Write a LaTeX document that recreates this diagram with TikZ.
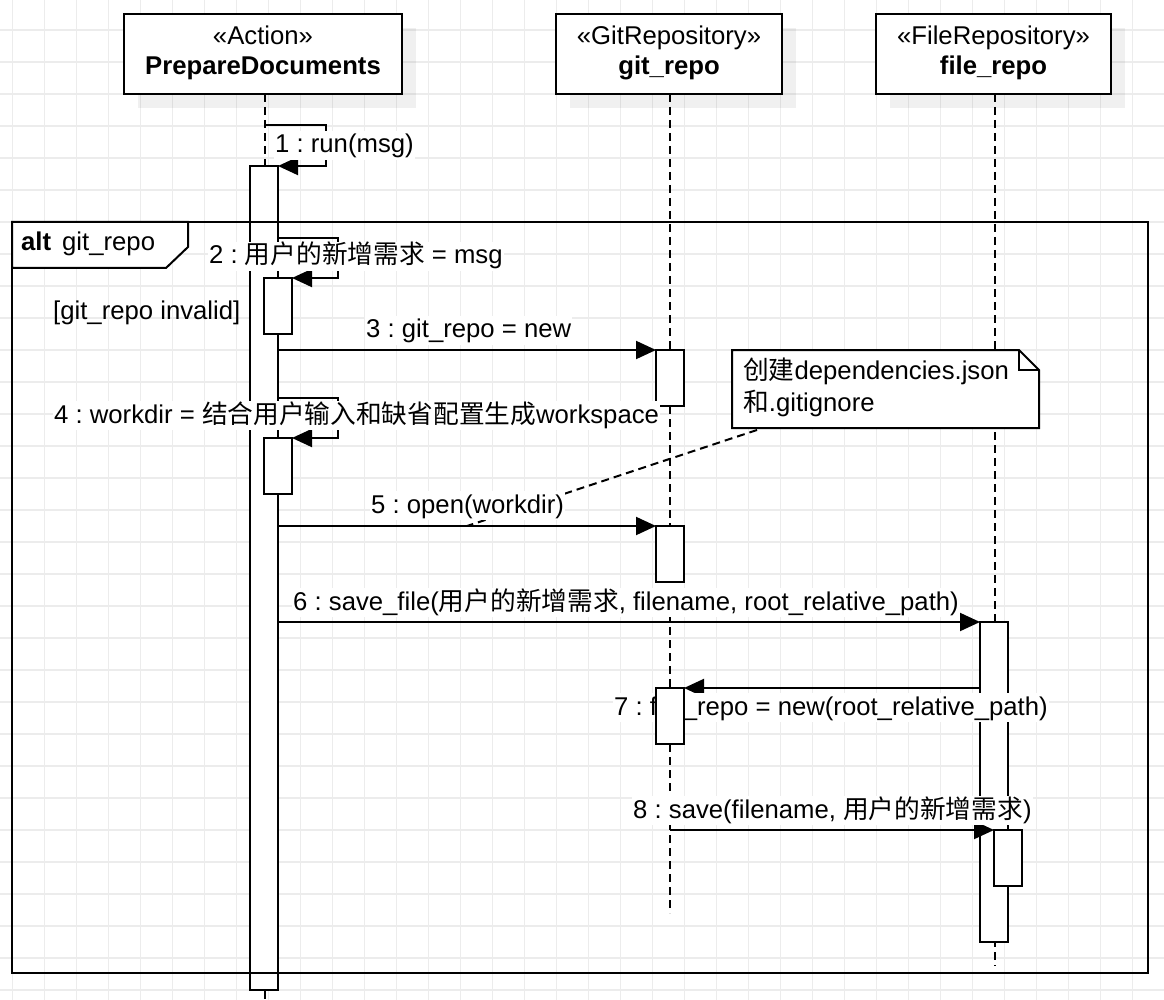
\documentclass[tikz,border=0pt]{standalone}
\usepackage{fontspec}
\setmainfont{Liberation Sans}
\newfontfamily\cjkf{Noto Sans CJK SC}
\newcommand\zh[1]{{\cjkf #1}}
\frenchspacing
\usetikzlibrary{arrows.meta,calc}
\tikzset{
  gridline/.style={line width=1.3pt, color={rgb,255:red,236;green,236;blue,236}},
  headbox/.style={draw, fill=white, line width=2pt, minimum height=80pt, inner sep=0pt, outer sep=0pt, anchor=north west, align=center},
  shadowfill/.style={fill=black, opacity=0.06},
  lifeline/.style={line width=2pt, dash pattern=on 8pt off 5pt},
  actbox/.style={draw, fill=white, line width=2pt, minimum width=28pt, inner sep=0pt, outer sep=0pt, anchor=north west},
  msg/.style={line width=2pt, -{Triangle[length=20pt,width=18pt]}},
  lbl/.style={fill=white, inner xsep=1pt, inner ysep=0pt, text height=22pt, text depth=7pt, anchor=base west},
  plain/.style={inner sep=0pt, anchor=base west},
  notelink/.style={line width=2pt, dash pattern=on 8pt off 5pt},
}
\begin{document}
\begin{tikzpicture}[x=1pt,y=-1pt,font=\fontsize{25.7pt}{30pt}\selectfont\frenchspacing]
\fill[white] (0,0) rectangle (1164,1000);
\useasboundingbox (0,0) rectangle (1164,1000);
% grid
\foreach \i in {0,...,36} \draw[gridline] ({12.5+32*\i},0) -- ++(0,1000);
\foreach \j in {0,...,30} \draw[gridline] (0,{30+32*\j}) -- ++(1164,0);

% lifeline heads
\node[headbox, minimum width=278pt] (pd) at (124,14) {};
\node[headbox, minimum width=226pt] (gr) at (556,14) {};
\node[headbox, minimum width=235pt] (fr) at (876,14) {};
\foreach \n in {pd,gr,fr}
  \fill[shadowfill] ($(\n.north west)+(14,14)$) rectangle ($(\n.south east)+(14,14)$);
\node[headbox, minimum width=278pt] (pdh) at (124,14) {\strut«Action»\\\strut\textbf{PrepareDocuments}};
\node[headbox, minimum width=226pt] (grh) at (556,14) {\strut«GitRepository»\\\strut\textbf{git\_repo}};
\node[headbox, minimum width=235pt] (frh) at (876,14) {\strut«FileRepository»\\\strut\textbf{file\_repo}};

% lifelines
\coordinate (pdend) at (265,1000);
\coordinate (grend) at (670,913);
\coordinate (frend) at (995,966);
\draw[lifeline] (pdh.south -| pdend) -- (pdend);
\draw[lifeline] (grh.south -| grend) -- (grend);
\draw[lifeline] (frh.south -| frend) -- (frend);

% activations
\node[actbox, minimum height=824pt] (A1) at (250,166) {};
\node[actbox, minimum height=56pt] (A2) at (264,278) {};
\node[actbox, minimum height=56pt] (A3) at (264,438) {};
\node[actbox, minimum height=56pt] (G1) at (656,350) {};
\node[actbox, minimum height=56pt] (G2) at (656,526) {};
\node[actbox, minimum height=320pt] (F1) at (980,622) {};
\node[actbox, minimum height=56pt] (F2) at (994,830) {};

% messages
\coordinate (m1s) at (265,125);
\draw[msg] (m1s) -- ++(61,0) |- (A1.north east);
\draw[msg] ($(A1.east |- A2.north)+(0,-40)$) -- ++(60,0) |- (A2.north east);
\draw[msg] (A1.east |- G1.north) -- (G1.north west);
\draw[msg] ($(A1.east |- A3.north)+(0,-40)$) -- ++(60,0) |- (A3.north east);
\draw[msg] (A1.east |- G2.north) -- (G2.north west);
\draw[msg] (A1.east |- F1.north) -- (F1.north west);
\draw[msg] (F1.west |- 0,688) -- (656+28,688) coordinate (G3ne);
\draw[msg] (grend |- F2.north) -- (F2.north west);

% note
\node[inner sep=0pt, outer sep=0pt, minimum width=307pt, minimum height=78pt, anchor=north west] (note) at (732,350) {};
\draw[line width=2pt, fill=white] (note.north west) -- ($(note.north east)+(-20,0)$) -- ($(note.north east)+(0,20)$) -- (note.south east) -- (note.south west) -- cycle;
\draw[line width=2pt] ($(note.north east)+(-20,0)$) -- ++(0,20) -- ++(20,0);
\node[inner sep=0pt, anchor=north west, align=left] (notetext) at (743,358) {\strut\zh{创建}dependencies.json\\\strut\zh{和}.gitignore};
\coordinate (m5mid) at ($(A1.east |- G2.north)!0.5!(G2.north west)$);
\draw[notelink] ($(note.south west)+(25,2)$) -- (m5mid);

% labels
\node[lbl] (l1) at (274,152.7) {1 : run(msg)};
\node[lbl] (l2) at (208,264) {2 : \zh{用户的新增需求} = msg};
\node[lbl] (l3) at (365,337.7) {3 : git\_repo = new};
\node[lbl] (l4) at (53,423.3) {4 : workdir = \zh{结合用户输入和缺省配置生成}workspace};
\node[lbl] (l5) at (370,513.3) {5 : open(workdir)};
\node[lbl] (l6) at (292,610) {6 : save\_file(\zh{用户的新增需求}, filename, root\_relative\_path)};
\node[lbl] (l7) at (613,715) {7 : file\_repo = new(root\_relative\_path)};
\node[lbl] (l8) at (632,818.3) {8 : save(filename, \zh{用户的新增需求})};

% activation drawn over label 7
\node[actbox, minimum height=56pt] (G3) at (656,688) {};

% alt frame
\node[draw, line width=2pt, inner sep=0pt, outer sep=0pt, minimum width=1136pt, minimum height=751pt, anchor=north west] (alt) at (12,222) {};
\draw[line width=2pt, fill=white] (alt.north west) -- ++(176,0) -- ++(0,25) -- ++(-22,21) -- ++(-154,0) -- cycle;
\node[plain] (altkw) at (21,251) {\textbf{alt}};
\node[plain] (altcond) at (62,251) {git\_repo};
\node[plain] (guard) at (53,319) {[git\_repo invalid]};
\end{tikzpicture}
\end{document}
